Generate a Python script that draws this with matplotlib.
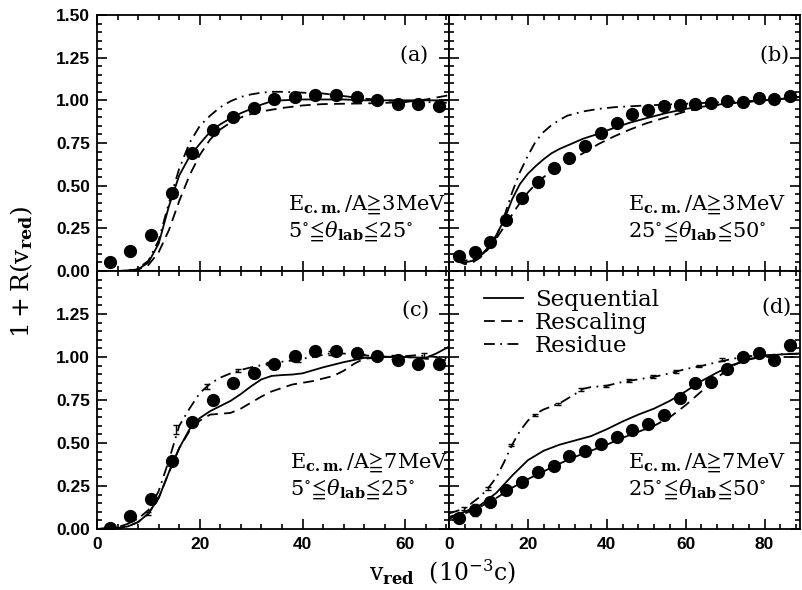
import numpy as np
import matplotlib
matplotlib.use('Agg')
import matplotlib.pyplot as plt
from matplotlib.ticker import MultipleLocator

plt.rcParams['mathtext.fontset'] = 'dejavuserif'
plt.rcParams['font.family'] = ['DejaVu Serif', 'DejaVu Sans']

# ---- data points (filled circles) ----
v_left = [2.5, 6.5, 10.5, 14.5, 18.5, 22.5, 26.5, 30.5, 34.5, 38.5, 42.5, 46.5,
          50.5, 54.5, 58.5, 62.5, 66.5]
v_right = [2.5, 6.5, 10.5, 14.5, 18.5, 22.5, 26.5, 30.5, 34.5, 38.5, 42.5, 46.5,
           50.5, 54.5, 58.5, 62.5, 66.5, 70.5, 74.5, 78.5, 82.5, 86.5]

a_pts = [0.05, 0.115, 0.21, 0.455, 0.69, 0.825, 0.905, 0.955, 1.005, 1.02, 1.033,
         1.033, 1.02, 1.0, 0.978, 0.98, 0.965]
b_pts = [0.085, 0.112, 0.17, 0.298, 0.427, 0.524, 0.603, 0.66, 0.731, 0.809, 0.865,
         0.918, 0.943, 0.965, 0.97, 0.977, 0.986, 0.994, 0.989, 1.013, 1.007, 1.028]
c_pts = [0.005, 0.073, 0.177, 0.397, 0.625, 0.751, 0.846, 0.906, 0.961, 1.004, 1.037,
         1.037, 1.024, 1.007, 0.981, 0.96, 0.96]
d_pts = [0.062, 0.11, 0.159, 0.225, 0.275, 0.331, 0.364, 0.424, 0.455, 0.494, 0.537,
         0.574, 0.61, 0.66, 0.76, 0.849, 0.857, 0.929, 1.002, 1.025, 0.983, 1.067]
d_err = [0.01, 0.035, 0.01, 0.01, 0.01, 0.01, 0.01, 0.01, 0.01, 0.01, 0.01,
         0.01, 0.01, 0.01, 0.01, 0.01, 0.01, 0.01, 0.01, 0.01, 0.01, 0.03]

# ---- model curves ----
a_seq_x = [0, 4, 6, 8, 10, 12, 14, 16, 18, 20, 22, 24, 26, 28, 30, 32, 34, 36, 40, 44, 48, 52, 56, 60, 64, 68.5]
a_seq_y = [0.0, 0.0, 0.002, 0.01, 0.05, 0.16, 0.38, 0.56, 0.67, 0.745, 0.815, 0.86, 0.895, 0.925,
           0.95, 0.975, 0.995, 1.0, 1.005, 1.005, 1.005, 1.0, 1.0, 1.0, 1.0, 1.0]
a_res_x = [0, 4, 6, 8, 10, 12, 14, 16, 18, 20, 22, 24, 26, 28, 30, 32, 36, 40, 44, 48, 52, 56, 60, 64, 68.5]
a_res_y = [0.0, 0.0, 0.002, 0.008, 0.035, 0.11, 0.24, 0.41, 0.56, 0.68, 0.77, 0.83, 0.87, 0.9,
           0.92, 0.935, 0.955, 0.97, 0.978, 0.98, 0.982, 0.985, 0.99, 1.005, 1.03]
a_rsd_x = [0, 4, 6, 8, 10, 12, 14, 16, 18, 20, 22, 24, 26, 28, 30, 32, 34, 36, 40, 44, 48, 52, 56, 60, 64, 68.5]
a_rsd_y = [0.0, 0.0, 0.003, 0.015, 0.06, 0.18, 0.4, 0.6, 0.75, 0.85, 0.91, 0.96, 0.995, 1.02,
           1.035, 1.045, 1.05, 1.05, 1.045, 1.04, 1.025, 1.01, 1.0, 0.995, 0.99, 0.985]

b_seq_x = [2, 4, 6, 8, 10, 12, 14, 16, 18, 20, 22, 24, 26, 28, 30, 34, 38, 42, 46, 50, 55, 60, 65, 70, 75, 80, 85, 89]
b_seq_y = [0.065, 0.05, 0.06, 0.09, 0.14, 0.21, 0.3, 0.42, 0.51, 0.57, 0.615, 0.655, 0.69, 0.715,
           0.735, 0.775, 0.805, 0.84, 0.87, 0.895, 0.925, 0.95, 0.965, 0.98, 0.99, 1.0, 1.01, 1.02]
b_res_x = [2, 4, 6, 8, 10, 12, 14, 16, 18, 20, 22, 24, 26, 28, 30, 34, 38, 42, 46, 50, 55, 60, 65, 70, 75, 80, 85, 89]
b_res_y = [0.06, 0.04, 0.05, 0.08, 0.13, 0.19, 0.26, 0.33, 0.4, 0.46, 0.51, 0.55, 0.585, 0.615,
           0.64, 0.69, 0.745, 0.79, 0.83, 0.865, 0.9, 0.935, 0.96, 0.98, 0.99, 1.0, 1.01, 1.02]
b_rsd_x = [2, 4, 6, 8, 10, 12, 14, 16, 18, 20, 22, 24, 26, 28, 30, 34, 38, 42, 46, 50, 55, 60, 65, 70, 75, 80, 85, 89]
b_rsd_y = [0.07, 0.06, 0.07, 0.09, 0.13, 0.2, 0.32, 0.46, 0.58, 0.675, 0.76, 0.815, 0.855, 0.885,
           0.91, 0.935, 0.95, 0.96, 0.965, 0.97, 0.975, 0.98, 0.985, 0.99, 0.995, 1.0, 1.01, 1.02]

c_seq_x = [0, 4, 6, 8, 10, 12, 14, 16, 18, 20, 22, 24, 26, 28, 30, 32, 34, 36, 38, 40, 44, 48, 52, 56, 60, 64, 66, 68.5]
c_seq_y = [0.0, 0.005, 0.015, 0.04, 0.09, 0.18, 0.33, 0.47, 0.58, 0.645, 0.685, 0.715, 0.745, 0.785,
           0.83, 0.87, 0.89, 0.895, 0.898, 0.905, 0.94, 0.97, 0.995, 1.0, 1.0, 0.995, 1.02, 1.06]
c_res_x = [0, 4, 6, 8, 10, 12, 14, 16, 18, 20, 22, 24, 26, 28, 30, 32, 34, 38, 42, 46, 48, 50, 52, 56, 60, 64, 68.5]
c_res_y = [0.0, 0.005, 0.015, 0.04, 0.09, 0.18, 0.33, 0.47, 0.57, 0.63, 0.665, 0.67, 0.675, 0.7,
           0.735, 0.77, 0.8, 0.84, 0.86, 0.89, 0.92, 0.96, 0.99, 1.0, 1.0, 0.99, 0.98]
c_rsd_x = [0, 4, 6, 8, 10, 12, 14, 16, 18, 20, 22, 24, 26, 28, 30, 34, 38, 42, 46, 50, 54, 58, 62, 66, 68.5]
c_rsd_y = [0.0, 0.01, 0.03, 0.06, 0.11, 0.22, 0.4, 0.6, 0.7, 0.79, 0.845, 0.88, 0.905, 0.925,
           0.94, 0.965, 0.98, 1.0, 1.025, 1.015, 1.005, 1.0, 1.01, 1.0, 0.99]
c_bar_x = [9.9, 15.3, 21.5, 27.4, 33.5, 39.2, 45.5, 51.5, 57.8, 63.6]
c_bar_y = [0.09, 0.58, 0.83, 0.92, 0.963, 0.98, 1.025, 1.01, 1.0, 1.012]
c_bar_e = [0.008, 0.025, 0.015, 0.01, 0.01, 0.01, 0.012, 0.01, 0.01, 0.012]

d_seq_x = [0, 4, 8, 12, 16, 20, 24, 28, 32, 36, 40, 44, 48, 52, 56, 60, 64, 68, 72, 76, 80, 84, 89]
d_seq_y = [0.07, 0.1, 0.14, 0.21, 0.31, 0.4, 0.455, 0.49, 0.515, 0.54, 0.58, 0.625, 0.665, 0.7,
           0.745, 0.8, 0.86, 0.91, 0.955, 0.985, 1.005, 1.015, 1.02]
d_res_x = [0, 4, 8, 12, 16, 20, 24, 28, 32, 36, 40, 44, 48, 52, 56, 60, 64, 68, 72, 76, 80, 84, 89]
d_res_y = [0.06, 0.09, 0.13, 0.18, 0.24, 0.29, 0.335, 0.38, 0.42, 0.455, 0.49, 0.53, 0.565, 0.6,
           0.65, 0.72, 0.8, 0.88, 0.95, 0.99, 1.0, 1.0, 1.0]
d_rsd_x = [0, 4, 8, 10, 12, 14, 16, 18, 20, 22, 24, 28, 32, 34, 36, 40, 44, 48, 52, 56, 60, 64, 68, 72, 76, 80, 84, 89]
d_rsd_y = [0.09, 0.12, 0.19, 0.24, 0.3, 0.39, 0.49, 0.57, 0.63, 0.67, 0.695, 0.73, 0.785, 0.815,
           0.825, 0.833, 0.855, 0.87, 0.885, 0.905, 0.93, 0.948, 0.97, 0.99, 1.005, 1.01, 1.015, 1.02]
d_bar_x = [3.8, 9.9, 15.8, 21.7, 27.6, 33.5, 39.7, 45.7, 51.6, 57.5, 63.3, 69.2]
d_bar_y = [0.12, 0.236, 0.488, 0.663, 0.727, 0.812, 0.832, 0.862, 0.886, 0.915, 0.948, 0.986]
d_bar_e = [0.01, 0.008, 0.008, 0.008, 0.008, 0.008, 0.008, 0.008, 0.008, 0.008, 0.008, 0.008]

y_ticks = [0.0, 0.25, 0.5, 0.75, 1.0, 1.25, 1.5]
y_labels_top = ['0.00', '0.25', '0.50', '0.75', '1.00', '1.25', '1.50']
y_labels_bot = ['0.00', '0.25', '0.50', '0.75', '1.00', '1.25', '']
x_ticks_left = [0, 20, 40, 60]
x_ticks_right = [0, 20, 40, 60, 80]

SEQ = '-'
RES = (0, (6, 3.5))
RSD = (0, (6, 3, 1, 3))
tickfont = dict(family='Liberation Sans', fontweight='bold', fontsize=12.5)

fig = plt.figure(figsize=(8.02, 5.9), dpi=100)
x0, xm, x1 = 97 / 802, 449 / 802, 800 / 802
y0, ym, y1 = 1 - 529 / 590, 1 - 271 / 590, 1 - 15 / 590
ax_a = fig.add_axes([x0, ym, xm - x0, y1 - ym])
ax_b = fig.add_axes([xm, ym, x1 - xm, y1 - ym])
ax_c = fig.add_axes([x0, y0, xm - x0, ym - y0])
ax_d = fig.add_axes([xm, y0, x1 - xm, ym - y0])

panels = [
    (ax_a, v_left, a_pts, a_seq_x, a_seq_y, a_res_x, a_res_y, a_rsd_x, a_rsd_y),
    (ax_b, v_right, b_pts, b_seq_x, b_seq_y, b_res_x, b_res_y, b_rsd_x, b_rsd_y),
    (ax_c, v_left, c_pts, c_seq_x, c_seq_y, c_res_x, c_res_y, c_rsd_x, c_rsd_y),
    (ax_d, v_right, d_pts, d_seq_x, d_seq_y, d_res_x, d_res_y, d_rsd_x, d_rsd_y),
]

for ax, vx, pts, sx, sy, rx, ry, dx, dy in panels:
    ax.plot(sx, sy, color='k', lw=1.3, ls=SEQ, label='Sequential')
    ax.plot(rx, ry, color='k', lw=1.3, ls=RES, label='Rescaling')
    ax.plot(dx, dy, color='k', lw=1.3, ls=RSD, label='Residue')
    if ax is ax_d:
        ax.errorbar(vx, pts, yerr=d_err, fmt='o', color='k', ms=8.5, elinewidth=1,
                    capsize=2.5, zorder=5)
    else:
        ax.plot(vx, pts, 'o', color='k', ms=8.5, zorder=5)
    ax.set_ylim(0, 1.5)
    ax.yaxis.set_minor_locator(MultipleLocator(0.05))
    ax.xaxis.set_minor_locator(MultipleLocator(4))
    ax.tick_params(which='both', direction='in', top=True, right=True, width=1.2)
    ax.tick_params(which='major', length=7.5)
    ax.tick_params(which='minor', length=3.5)
    ax.tick_params(axis='y', pad=5)
    ax.tick_params(axis='x', pad=6)
    for s in ax.spines.values():
        s.set_linewidth(1.3)

ax_c.errorbar(c_bar_x, c_bar_y, yerr=c_bar_e, fmt='none', ecolor='k', elinewidth=1, capsize=2.5)
ax_d.errorbar(d_bar_x, d_bar_y, yerr=d_bar_e, fmt='none', ecolor='k', elinewidth=1, capsize=2.5)

for ax in (ax_a, ax_c):
    ax.set_xlim(0, 68.5)
for ax in (ax_b, ax_d):
    ax.set_xlim(0, 89)

ax_a.set_yticks(y_ticks, y_labels_top, **tickfont)
ax_c.set_yticks(y_ticks, y_labels_bot, **tickfont)
ax_b.set_yticks(y_ticks, [''] * len(y_ticks))
ax_d.set_yticks(y_ticks, [''] * len(y_ticks))
ax_a.set_xticks(x_ticks_left, [''] * len(x_ticks_left))
ax_b.set_xticks(x_ticks_right, [''] * len(x_ticks_right))
ax_c.set_xticks(x_ticks_left, [str(t) for t in x_ticks_left], **tickfont)
ax_d.set_xticks(x_ticks_right, [str(t) for t in x_ticks_right], **tickfont)

# panel labels and cuts
fs = 15
ax_a.text(0.94, 0.845, r'$\mathrm{(a)}$', transform=ax_a.transAxes, ha='right', va='center', fontsize=fs)
ax_b.text(0.97, 0.845, r'$\mathrm{(b)}$', transform=ax_b.transAxes, ha='right', va='center', fontsize=fs)
ax_c.text(0.945, 0.85, r'$\mathrm{(c)}$', transform=ax_c.transAxes, ha='right', va='center', fontsize=fs)
ax_d.text(0.975, 0.86, r'$\mathrm{(d)}$', transform=ax_d.transAxes, ha='right', va='center', fontsize=fs)

e3 = r'$\mathrm{E_{\mathbf{c.m.}}/A}\!\geqq\!\mathrm{3MeV}$'
e7 = r'$\mathrm{E_{\mathbf{c.m.}}/A}\!\geqq\!\mathrm{7MeV}$'
th_fwd = r'$5^{\circ}\!\leqq\!\theta_{\mathbf{lab}}\!\leqq\!25^{\circ}$'
th_bwd = r'$25^{\circ}\!\leqq\!\theta_{\mathbf{lab}}\!\leqq\!50^{\circ}$'
for ax, xl, l1, l2 in [(ax_a, 0.543, e3, th_fwd), (ax_b, 0.509, e3, th_bwd),
                       (ax_c, 0.548, e7, th_fwd), (ax_d, 0.509, e7, th_bwd)]:
    ax.text(xl, 0.26, l1, transform=ax.transAxes, ha='left', va='center', fontsize=fs)
    ax.text(xl, 0.155, l2, transform=ax.transAxes, ha='left', va='center', fontsize=fs)

leg = ax_d.legend(loc='upper left', bbox_to_anchor=(0.04, 1.01), frameon=False,
                  handlelength=1.7, handletextpad=0.55, labelspacing=0.05,
                  prop={'family': 'DejaVu Serif', 'size': 16.5})

fig.text(22 / 802, 1 - 272 / 590, r'$\mathrm{1+R(v_{\mathbf{red}})}$', rotation=90,
         ha='center', va='center', fontsize=18)
fig.text(443 / 802, 1 - 572 / 590, r'$\mathrm{v_{\mathbf{red}}}\ \ \mathrm{(10^{-3}c)}$',
         ha='center', va='center', fontsize=17)

fig.savefig('out.png', dpi=100)
